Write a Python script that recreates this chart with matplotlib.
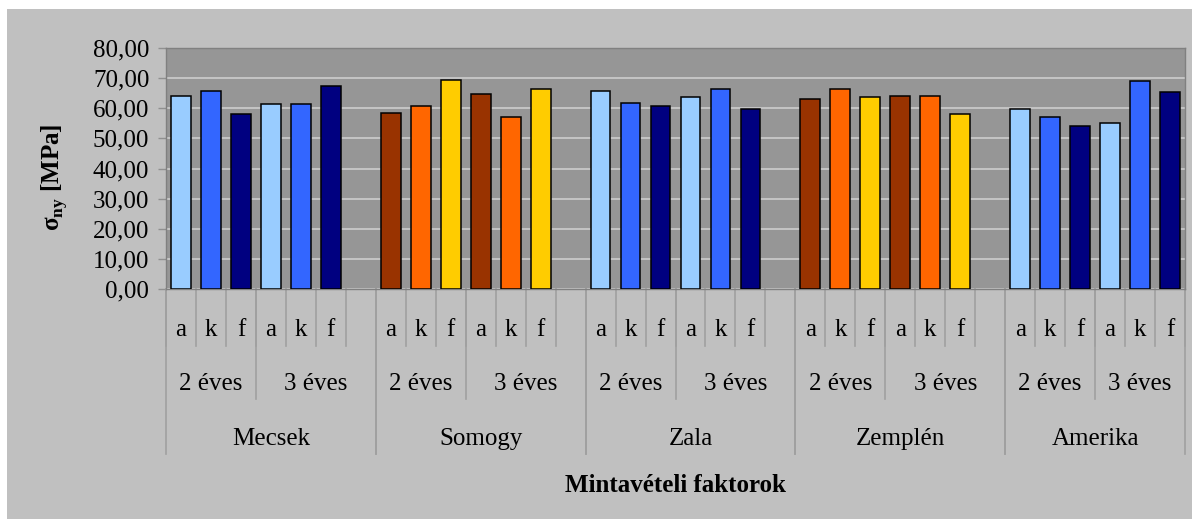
import matplotlib
matplotlib.use('Agg')
from matplotlib import pyplot as plt
from matplotlib.patches import Rectangle
import numpy as np

plt.rcParams['font.family'] = ['Liberation Serif', 'DejaVu Serif']
plt.rcParams['mathtext.fontset'] = 'custom'
plt.rcParams['mathtext.rm'] = 'Liberation Serif'
plt.rcParams['mathtext.bf'] = 'Liberation Serif:bold'

regions = ['Mecsek', 'Somogy', 'Zala', 'Zemplén', 'Amerika']
years = ['2 éves', '3 éves']
factors = ['a', 'k', 'f']

# a, k, f for 2 éves then a, k, f for 3 éves
mecsek = [64.1, 65.8, 58.2, 61.4, 61.4, 67.3]
somogy = [58.3, 60.9, 69.4, 64.8, 57.1, 66.3]
zala = [65.8, 61.6, 60.8, 63.6, 66.3, 59.8]
zemplen = [63.1, 66.3, 63.6, 64.1, 64.1, 58.2]
amerika = [59.8, 57.1, 54.0, 55.0, 69.0, 65.3]
region_values = [mecsek, somogy, zala, zemplen, amerika]

blue_colors = ['#99CCFF', '#3366FF', '#000080']
orange_colors = ['#993300', '#FF6600', '#FFCC00']
region_colors = [blue_colors, orange_colors, blue_colors, orange_colors, blue_colors]

W, H = 1192, 519
fig = plt.figure(figsize=(W / 100, H / 100), dpi=100, facecolor='white')
fig.patches.append(Rectangle((7 / W, 0), 1 - 7 / W, 1 - 9 / H, transform=fig.transFigure,
                             facecolor='#C0C0C0', edgecolor='none', zorder=-10))

x0, x1, ytop, ybot = 166, 1185, 48, 289
ax = fig.add_axes([x0 / W, 1 - ybot / H, (x1 - x0) / W, (ybot - ytop) / H])
ax.set_facecolor('#969696')

slot = 7
n_slots = slot * (len(regions) - 1) + 6
for r, vals in enumerate(region_values):
    start = r * slot
    xs = start + np.arange(6)
    cols = region_colors[r] * 2
    ax.bar(xs, vals, width=0.66, color=cols, edgecolor='black', linewidth=1.1, zorder=3)

fs = 18
ax.set_xlim(-0.5, n_slots - 0.5)
ax.set_ylim(0, 80)
ax.set_yticks(np.arange(0, 81, 10))
ax.set_yticklabels([('%.2f' % v).replace('.', ',') for v in np.arange(0, 81, 10)], fontsize=fs)
ax.tick_params(axis='y', length=6, width=1, color='#909090', pad=6)
ax.set_xticks([])
ax.grid(axis='y', color='#C8C8C8', linewidth=1.3, zorder=1)
ax.set_axisbelow(True)
for s in ax.spines.values():
    s.set_color('#808080')
    s.set_linewidth(1)

trans = ax.get_xaxis_transform()


def ay(py):
    return (ybot - py) / (ybot - ytop)


line_kw = dict(color='#A0A0A0', linewidth=1.2, transform=trans, clip_on=False)
row1, row2, row3 = 346, 399, 454

# slot separators (first row)
for i in range(n_slots + 1):
    ax.plot([i - 0.5, i - 0.5], [ay(ybot), ay(row1)], **line_kw)
for r in range(len(regions)):
    start = r * slot
    end = start + (slot if r < len(regions) - 1 else 6)
    ax.plot([start + 2.5, start + 2.5], [ay(ybot), ay(row2)], **line_kw)
    ax.plot([start - 0.5, start - 0.5], [ay(ybot), ay(row3)], **line_kw)
    ax.plot([end - 0.5, end - 0.5], [ay(ybot), ay(row3)], **line_kw)
    for j in range(6):
        ax.text(start + j, ay(330), factors[j % 3], ha='center', va='center',
                fontsize=fs, transform=trans)
    ax.text(start + 1, ay(384), years[0], ha='center', va='center', fontsize=fs, transform=trans)
    ax.text((start + 2.5 + end - 0.5) / 2, ay(384), years[1], ha='center', va='center',
            fontsize=fs, transform=trans)
    ax.text((start - 0.5 + end - 0.5) / 2, ay(439), regions[r], ha='center', va='center',
            fontsize=fs, transform=trans)

fig.text((x0 + x1) / 2 / W, 1 - 486 / H, 'Mintavételi faktorok', ha='center', va='center',
         fontsize=18, fontweight='bold')
fig.text(55 / W, 1 - 177 / H, r'σ$_\mathbf{ny}$ [MPa]', ha='center', va='center',
         rotation=90, fontsize=18, fontweight='bold')

fig.savefig('out.png', dpi=100, facecolor='white')
